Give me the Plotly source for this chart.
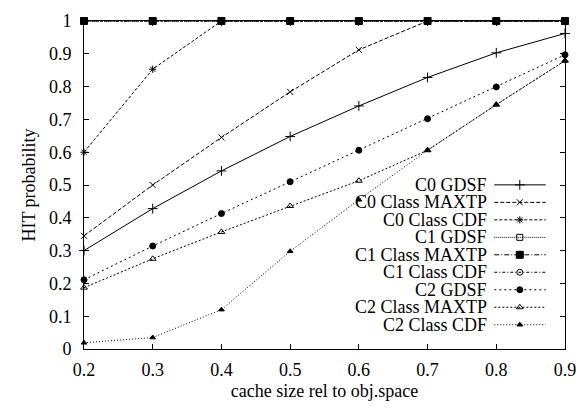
import plotly.graph_objects as go

# cache size relative to object space
cache_size = [0.2, 0.3, 0.4, 0.5, 0.6, 0.7, 0.8, 0.9]

# hit probability per class and replacement policy
c0_gdsf = [0.300, 0.428, 0.543, 0.648, 0.741, 0.828, 0.903, 0.962]
c0_class_maxtp = [0.345, 0.500, 0.645, 0.784, 0.912, 1.0, 1.0, 1.0]
c0_class_cdf = [0.600, 0.853, 1.0, 1.0, 1.0, 1.0, 1.0, 1.0]
c1_gdsf = [1.0, 1.0, 1.0, 1.0, 1.0, 1.0, 1.0, 1.0]
c1_class_maxtp = [1.0, 1.0, 1.0, 1.0, 1.0, 1.0, 1.0, 1.0]
c1_class_cdf = [1.0, 1.0, 1.0, 1.0, 1.0, 1.0, 1.0, 1.0]
c2_gdsf = [0.211, 0.314, 0.413, 0.510, 0.606, 0.702, 0.799, 0.897]
c2_class_maxtp = [0.187, 0.275, 0.357, 0.436, 0.513, 0.606, 0.745, 0.879]
c2_class_cdf = [0.019, 0.035, 0.120, 0.298, 0.455, 0.606, 0.745, 0.879]

x_ticks = [0.2, 0.3, 0.4, 0.5, 0.6, 0.7, 0.8, 0.9]
y_ticks = [0, 0.1, 0.2, 0.3, 0.4, 0.5, 0.6, 0.7, 0.8, 0.9, 1]

FONT = "Liberation Serif"
FS = 18

# (name, values, dash, marker symbol, marker size)
series = [
    ("C0 GDSF", c0_gdsf, "solid", "cross-thin", 7),
    ("C0 Class MAXTP", c0_class_maxtp, "4px,2px", "x-thin", 6),
    ("C0 Class CDF", c0_class_cdf, "3px,2px", "asterisk", 6),
    ("C1 GDSF", c1_gdsf, "1px,1px", "square-open", 6),
    ("C1 Class MAXTP", c1_class_maxtp, "5px,2px,1px,2px", "square", 7),
    ("C1 Class CDF", c1_class_cdf, "3px,2px,1px,2px", "circle-open", 6),
    ("C2 GDSF", c2_gdsf, "2px,3px", "circle", 6),
    ("C2 Class MAXTP", c2_class_maxtp, "2px,2px", "triangle-up-open", 6),
    ("C2 Class CDF", c2_class_cdf, "1px,2px", "triangle-up", 5),
]

fig = go.Figure()

for name, vals, dash, sym, size in series:
    fig.add_trace(go.Scatter(
        x=cache_size, y=vals, name=name, mode="lines+markers",
        line=dict(color="black", width=1, dash=dash),
        marker=dict(symbol=sym, size=size, color="black",
                    line=dict(color="black", width=1)),
        cliponaxis=False, showlegend=False,
    ))

# key drawn gnuplot-style: right-aligned label followed by a line sample
key_text_x = 0.838
key_x0, key_x1, key_mid = 0.853, 0.960, 0.906
key_top, key_step = 0.5004, 0.0533
for i, (name, vals, dash, sym, size) in enumerate(series):
    ky = key_top - i * key_step
    fig.add_trace(go.Scatter(
        x=[key_x0, key_x1], y=[ky, ky], mode="lines",
        line=dict(color="black", width=1, dash=dash),
        xaxis="x2", yaxis="y2", showlegend=False, hoverinfo="skip",
    ))
    fig.add_trace(go.Scatter(
        x=[key_mid], y=[ky], mode="markers",
        marker=dict(symbol=sym, size=size, color="black",
                    line=dict(color="black", width=1)),
        xaxis="x2", yaxis="y2", showlegend=False, hoverinfo="skip",
    ))
    fig.add_annotation(
        x=key_text_x, y=ky, xref="x2", yref="y2", text=name,
        showarrow=False, xanchor="right", yanchor="middle",
        borderpad=0, borderwidth=0,
        font=dict(family=FONT, size=FS, color="black"),
    )

axis_common = dict(
    showgrid=False, zeroline=False, showline=True, linecolor="black",
    linewidth=1, mirror="ticks", ticks="inside", ticklen=5,
    tickcolor="black", tickwidth=1,
    tickfont=dict(family=FONT, size=FS, color="black"),
)

fig.update_layout(
    width=587, height=409,
    margin=dict(l=84, r=18, t=11, b=60),
    paper_bgcolor="white", plot_bgcolor="white",
    font=dict(family=FONT, color="black"),
    xaxis=dict(range=[0.2, 0.9], tickvals=x_ticks,
               ticktext=[f"{v:g}" for v in x_ticks],
               ticklabelstandoff=4,
               title=dict(text="cache size rel to obj.space",
                          font=dict(family=FONT, size=FS, color="black"),
                          standoff=5),
               **axis_common),
    yaxis=dict(range=[0, 1], tickvals=y_ticks,
               ticktext=[f"{v:g}" for v in y_ticks],
               ticklabelstandoff=8,
               title=dict(text="HIT probability",
                          font=dict(family=FONT, size=FS, color="black"),
                          standoff=8),
               **axis_common),
    xaxis2=dict(range=[0, 1], overlaying="x", visible=False),
    yaxis2=dict(range=[0, 1], overlaying="y", visible=False),
)

fig.write_html("out.html")
